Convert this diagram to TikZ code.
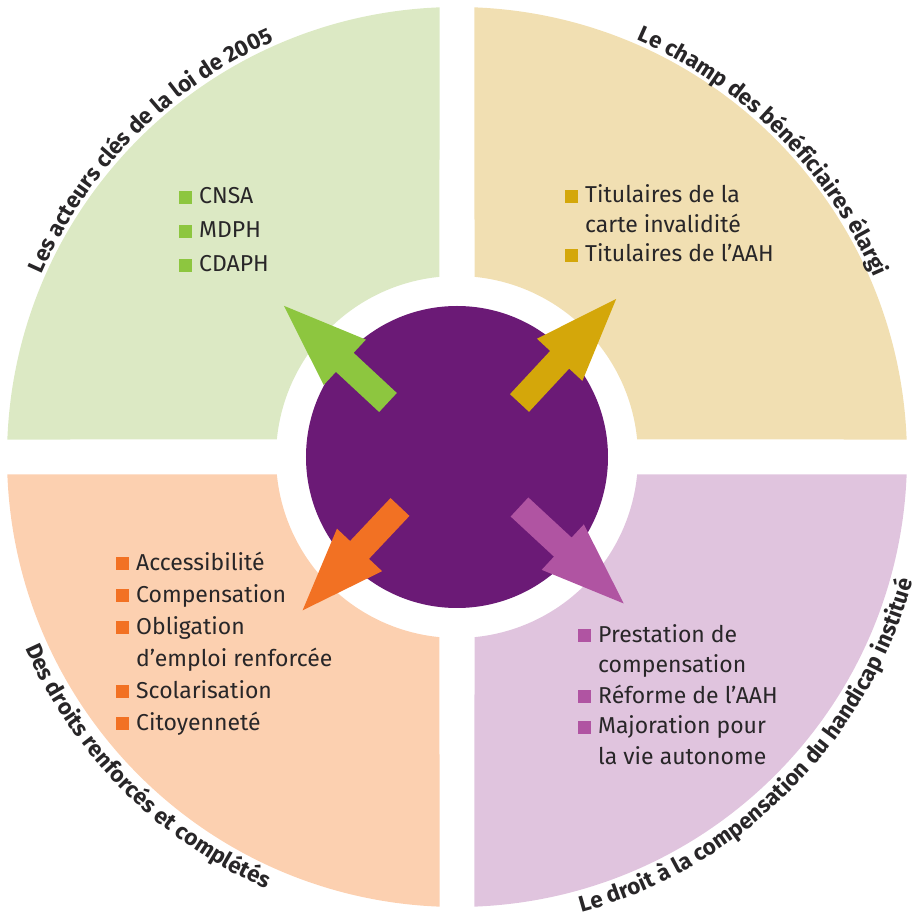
\documentclass[tikz,border=0pt]{standalone}
\usepackage{fontspec}
\setmainfont{Fira Sans}
\usetikzlibrary{decorations.text}

\definecolor{vertclair}{RGB}{220,233,196}
\definecolor{vertvif}{RGB}{141,198,63}
\definecolor{jauneclair}{RGB}{241,223,178}
\definecolor{jaunevif}{RGB}{212,167,10}
\definecolor{orangeclair}{RGB}{252,208,176}
\definecolor{orangevif}{RGB}{242,113,35}
\definecolor{roseclair}{RGB}{224,196,222}
\definecolor{rosevif}{RGB}{176,84,162}
\definecolor{pourpre}{RGB}{107,26,118}
\definecolor{texte}{RGB}{40,38,40}

\newcommand{\puce}[1]{\makebox[0pt][r]{\textcolor{#1}{\rule{13pt}{13pt}}\hspace{7pt}}}
\newcommand{\titrefont}{\bfseries\fontsize{22.5}{26}\selectfont}
\newcommand{\fleche}[3]{\fill[#1,shift={#2},rotate=#3] (0,-13) -- (59,-13) -- (59,-31) -- (142,0) -- (59,31) -- (59,13) -- (0,13) -- cycle;}

\tikzset{
    liste/.style={anchor=base west, align=left, text=texte, inner sep=0pt},
    titre/.style={decorate, decoration={text along path, text align=center, text color=texte, text={#1}}}
}

\begin{document}
\begin{tikzpicture}[x=1pt,y=1pt]
    \useasboundingbox (-457,-466) rectangle (467,457);
    \foreach \a/\c in {90/vertclair, 0/jauneclair, 180/orangeclair, 270/roseclair}
        \fill[\c] ({\a+2.23}:450) arc[start angle={\a+2.23}, end angle={\a+87.77}, radius=450]
            -- ({\a+84.45}:181) arc[start angle={\a+84.45}, end angle={\a+5.55}, radius=181] -- cycle;
    \node[circle, fill=pourpre, minimum size=302pt, inner sep=0pt] (centre) at (0,0) {};
    \fleche{vertvif}{(-69,54.5)}{137.1}
    \fleche{jaunevif}{(62.5,54)}{47.1}
    \fleche{orangevif}{(-57,-50)}{226.7}
    \fleche{rosevif}{(62.5,-50)}{-42.8}
    \node[liste, font=\fontsize{23}{34}\selectfont] (acteurs) at (-258,185)
        {\puce{vertvif}CNSA\\\puce{vertvif}MDPH\\\puce{vertvif}CDAPH};
    \node[liste, font=\fontsize{23}{29.5}\selectfont] (beneficiaires) at (128,195)
        {\puce{jaunevif}Titulaires de la\\carte invalidité\\\puce{jaunevif}Titulaires de l’AAH};
    \node[liste, font=\fontsize{23}{32}\selectfont] (droits) at (-321,-273)
        {\puce{orangevif}Accessibilité\\\puce{orangevif}Compensation\\\puce{orangevif}Obligation\\d’emploi renforcée\\\puce{orangevif}Scolarisation\\\puce{orangevif}Citoyenneté};
    \node[liste, font=\fontsize{23}{30.5}\selectfont] (compensation) at (141,-307)
        {\puce{rosevif}Prestation de\\compensation\\\puce{rosevif}Réforme de l’AAH\\\puce{rosevif}Majoration pour\\la vie autonome};
    \path[titre={|\titrefont|Les acteurs clés de la loi de 2005}] (180:454) arc[start angle=180, end angle=90, radius=454];
    \path[titre={|\titrefont|Le champ des bénéficiaires élargi}] (90:454) arc[start angle=90, end angle=0, radius=454];
    \path[titre={|\titrefont|Des droits renforcés et complétés}] (180:472) arc[start angle=180, end angle=270, radius=472];
    \path[titre={|\titrefont|Le droit à la compensation du handicap institué}] (270:472) arc[start angle=270, end angle=360, radius=472];
\end{tikzpicture}
\end{document}
